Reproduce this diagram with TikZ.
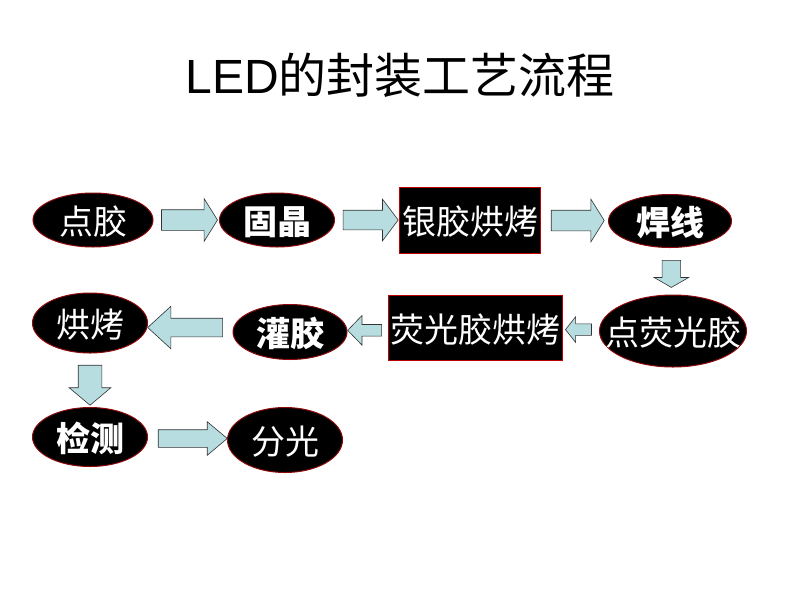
\documentclass[tikz,border=0pt]{standalone}
\usepackage{fontspec}
\setmainfont{Noto Sans CJK SC}
\newfontfamily\latinfont{Liberation Sans}
\usetikzlibrary{
  shapes.geometric,
  shapes.arrows
}
\definecolor{arrowfill}{RGB}{183,221,224}
\definecolor{rimred}{RGB}{140,10,10}
\newcommand{\stagetext}[1]{\raisebox{-0.44em}[0pt][0pt]{\makebox[0pt]{#1}}}
\tikzset{
  stage/.style={ellipse, fill=black, draw=rimred, line width=1pt,
    text=white, inner sep=0pt, font=\fontsize{34}{40}\selectfont},
  heavy/.style={font=\fontsize{34}{40}\selectfont\bfseries},
  oven/.style={rectangle, fill=black, draw=red!75!black, line width=1pt,
    text=white, inner sep=0pt, font=\fontsize{34}{40}\selectfont},
  flow/.style={single arrow, draw=black!80, fill=arrowfill, line width=0.6pt,
    inner sep=0pt, text depth=0pt}
}

\begin{document}
\begin{tikzpicture}[x=1pt, y=-1pt]
    \path[use as bounding box, fill=white] (0,0) rectangle (800,600);

    \node[font=\fontsize{48}{56}\selectfont] (title) at (400,75)
      {{\latinfont LED}的封装工艺流程};

    % row 1
    \node[stage, minimum width=120pt, minimum height=54pt]        (dj)    at (93,220)  {\stagetext{点胶}};
    \node[stage, heavy, minimum width=115pt, minimum height=54pt] (gj)    at (277,220) {\stagetext{固晶}};
    \node[oven, minimum width=141pt, minimum height=66pt]         (yjhk)  at (470,220) {\stagetext{银胶烘烤}};
    \node[stage, heavy, minimum width=123pt, minimum height=53pt] (hx)    at (670,221) {\stagetext{焊线}};
    % row 2
    \node[stage, minimum width=147pt, minimum height=72pt]        (dygj)  at (673,331) {\stagetext{点荧光胶}};
    \node[oven, minimum width=174pt, minimum height=65pt]         (ygjhk) at (475,328) {\stagetext{荧光胶烘烤}};
    \node[stage, heavy, minimum width=114pt, minimum height=55pt] (gjiao) at (290,332) {\stagetext{灌胶}};
    \node[stage, minimum width=115pt, minimum height=60pt]        (hk)    at (90,323)  {\stagetext{烘烤}};
    % row 3
    \node[stage, heavy, minimum width=115pt, minimum height=59pt] (jc)    at (90,437)  {\stagetext{检测}};
    \node[stage, minimum width=115pt, minimum height=65pt]        (fg)    at (285,440) {\stagetext{分光}};

    \path (dj) -- node[flow, minimum height=56pt, text height=20pt, single arrow head extend=11pt, single arrow tip angle=116] (a1) {} (gj);
    \path (gj) -- node[flow, minimum height=55pt, text height=19pt, single arrow head extend=11pt, single arrow tip angle=106] (a2) {} (yjhk);
    \path (yjhk) -- node[flow, minimum height=53pt, text height=20pt, single arrow head extend=11pt, single arrow tip angle=116] (a3) {} (hx);
    \path (hx) -- node[flow, rotate=-90, minimum height=27pt, text height=18pt, single arrow head extend=8pt, single arrow tip angle=120] (a4) {} (dygj);
    \path (dygj) -- node[flow, rotate=180, minimum height=26pt, text height=11pt, single arrow head extend=7pt, single arrow tip angle=103] (a5) {} (ygjhk);
    \path (ygjhk) -- node[flow, rotate=180, minimum height=34pt, text height=11pt, single arrow head extend=9pt, single arrow tip angle=92] (a6) {} (gjiao);
    \path (gjiao) -- node[flow, rotate=180, minimum height=75pt, text height=18pt, single arrow head extend=12pt, single arrow tip angle=85] (a7) {} (hk);
    \path (hk) -- node[flow, rotate=-90, minimum height=40pt, text height=23pt, single arrow head extend=9pt, single arrow tip angle=100] (a8) {} (jc);
    \path (jc) -- node[flow, minimum height=69pt, text height=17pt, single arrow head extend=8pt, single arrow tip angle=80] (a9) {} (fg);
\end{tikzpicture}
\end{document}
